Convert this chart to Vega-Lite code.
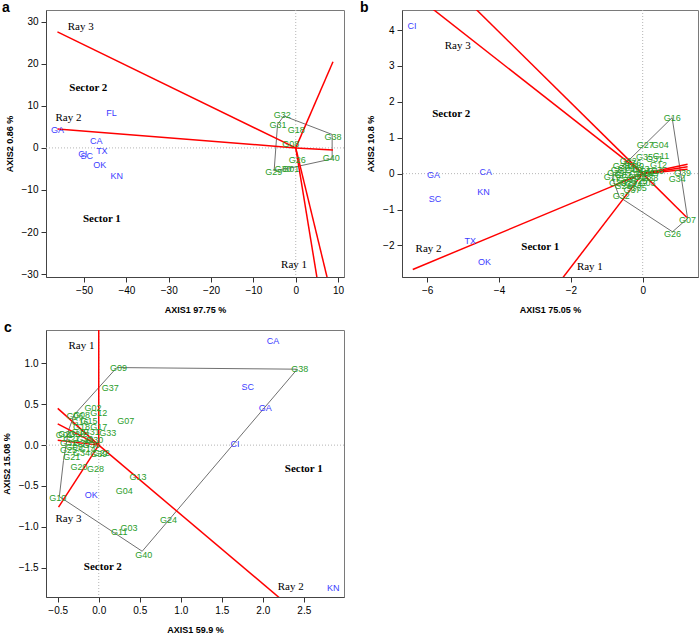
{
"$schema": "https://vega.github.io/schema/vega-lite/v6.json",
"padding": {"left": 1, "top": 0, "right": 0, "bottom": 0},
"background": "white",
"columns": 2,
"spacing": {"row": 53, "column": 58},
"bounds": "flush",
"config": {
 "view": {"stroke": "#7a7a7a", "strokeWidth": 1},
 "axis": {"grid": false, "labelFont": "Liberation Sans", "labelFontSize": 10, "labelColor": "#000", "tickColor": "#333", "domainColor": "#444", "tickSize": 5, "labelPadding": 3, "titleFont": "Liberation Sans", "titleFontSize": 9, "titleFontWeight": "bold", "titleColor": "#000"},
 "axisX": {"titlePadding": 10},
 "axisY": {"labelAngle": 0, "titlePadding": 7},
 "title": {"font": "Liberation Sans", "fontSize": 14, "fontWeight": "bold", "color": "#000", "anchor": "start", "frame": "group"}
},
"datasets": {
 "a_pts": [
  {"n":"GA","t":"E","x":-56.3,"y":4.2},{"n":"FL","t":"E","x":-43.5,"y":8.4},{"n":"CA","t":"E","x":-47.1,"y":1.6},{"n":"TX","t":"E","x":-45.8,"y":-0.8},{"n":"CI","t":"E","x":-50.3,"y":-1.5},{"n":"SC","t":"E","x":-49.4,"y":-1.9},{"n":"OK","t":"E","x":-46.3,"y":-4.1},{"n":"KN","t":"E","x":-42.3,"y":-6.7},
  {"n":"G32","t":"G","x":-3.2,"y":7.8},{"n":"G31","t":"G","x":-4.2,"y":5.5},{"n":"G18","t":"G","x":0.1,"y":4.3},{"n":"G38","t":"G","x":8.8,"y":2.6},{"n":"G08","t":"G","x":-1.2,"y":0.95},{"n":"G26","t":"G","x":0.35,"y":-2.9},{"n":"G40","t":"G","x":8.4,"y":-2.5},{"n":"G30","t":"G","x":-3.0,"y":-5.0},{"n":"G01","t":"G","x":-1.2,"y":-5.0},{"n":"G29","t":"G","x":-5.2,"y":-5.7}
 ],
 "a_hull": [
  {"o":1,"x":-2.8,"y":7.6},{"o":2,"x":8.6,"y":3.2},{"o":3,"x":8.6,"y":-2.6},{"o":4,"x":-0.5,"y":-4.6},{"o":5,"x":-5.1,"y":-5.4},{"o":6,"x":-4.3,"y":5.6},{"o":7,"x":-2.8,"y":7.6}
 ],
 "a_rays": [
  {"x":-56.3,"y":27.6},{"x":-56.3,"y":4.5},{"x":8.8,"y":20.5},{"x":8.8,"y":-0.5},{"x":5.2,"y":-32},{"x":7.7,"y":-32}
 ],
 "a_txt": [
  {"s":"Ray 3","k":"R","x":-50.8,"y":28.8},{"s":"Ray 2","k":"R","x":-53.7,"y":7.0},{"s":"Ray 1","k":"R","x":-0.4,"y":-27.8},{"s":"Sector 2","k":"S","x":-49.0,"y":14.2},{"s":"Sector 1","k":"S","x":-45.8,"y":-17.0}
 ],
 "b_pts": [
  {"n":"CI","t":"E","x":-6.42,"y":4.11},{"n":"GA","t":"E","x":-5.82,"y":-0.03},{"n":"SC","t":"E","x":-5.78,"y":-0.71},{"n":"CA","t":"E","x":-4.37,"y":0.04},{"n":"KN","t":"E","x":-4.43,"y":-0.52},{"n":"TX","t":"E","x":-4.8,"y":-1.87},{"n":"OK","t":"E","x":-4.4,"y":-2.46},
  {"n":"G16","t":"G","x":0.82,"y":1.56},{"n":"G27","t":"G","x":0.07,"y":0.79},{"n":"G04","t":"G","x":0.49,"y":0.79},{"n":"G11","t":"G","x":0.51,"y":0.48},{"n":"G35","t":"G","x":0.05,"y":0.46},{"n":"G31","t":"G","x":0.33,"y":0.4},{"n":"G12","t":"G","x":0.44,"y":0.24},{"n":"G39","t":"G","x":1.11,"y":0.01},{"n":"G34","t":"G","x":0.96,"y":-0.14},{"n":"G07","t":"G","x":1.25,"y":-1.29},{"n":"G26","t":"G","x":0.83,"y":-1.69},{"n":"G32","t":"G","x":-0.6,"y":-0.61},{"n":"G05","t":"G","x":-0.12,"y":-0.39},{"n":"G03","t":"G","x":0.12,"y":-0.25},{"n":"G36","t":"G","x":-0.28,"y":0.3},{"n":"G22","t":"G","x":-0.4,"y":0.36},{"n":"G19","t":"G","x":-0.85,"y":-0.1},{"n":"G01","t":"G","x":-0.65,"y":0.1},{"n":"G02","t":"G","x":-0.55,"y":-0.05},{"n":"G06","t":"G","x":-0.45,"y":0.15},{"n":"G08","t":"G","x":-0.35,"y":-0.08},{"n":"G09","t":"G","x":-0.25,"y":0.1},{"n":"G10","t":"G","x":-0.15,"y":-0.02},{"n":"G13","t":"G","x":-0.05,"y":0.12},{"n":"G14","t":"G","x":0.05,"y":0.02},{"n":"G15","t":"G","x":0.15,"y":0.08},{"n":"G17","t":"G","x":0.25,"y":0.03},{"n":"G18","t":"G","x":0.35,"y":0.06},{"n":"G20","t":"G","x":-0.7,"y":-0.25},{"n":"G21","t":"G","x":-0.55,"y":-0.35},{"n":"G23","t":"G","x":-0.4,"y":-0.25},{"n":"G24","t":"G","x":-0.25,"y":-0.3},{"n":"G25","t":"G","x":-0.1,"y":-0.2},{"n":"G28","t":"G","x":0.0,"y":-0.1},{"n":"G29","t":"G","x":-0.75,"y":0.02},{"n":"G30","t":"G","x":-0.6,"y":0.22},{"n":"G33","t":"G","x":-0.5,"y":-0.18},{"n":"G37","t":"G","x":-0.3,"y":-0.45},{"n":"G38","t":"G","x":0.2,"y":-0.12},{"n":"G40","t":"G","x":-0.2,"y":0.22}
 ],
 "b_hull": [
  {"o":1,"x":0.82,"y":1.56},{"o":2,"x":1.25,"y":-1.25},{"o":3,"x":0.83,"y":-1.62},{"o":4,"x":-0.65,"y":-0.65},{"o":5,"x":-0.85,"y":-0.1},{"o":6,"x":-0.4,"y":0.36},{"o":7,"x":0.82,"y":1.56}
 ],
 "b_rays": [
  {"x":-6.0,"y":4.71},{"x":-4.7,"y":4.64},{"x":1.23,"y":-1.22},{"x":-6.4,"y":-2.67},{"x":-2.3,"y":-3.0},{"x":1.25,"y":0.26},{"x":1.25,"y":0.19},{"x":1.25,"y":0.12}
 ],
 "b_txt": [
  {"s":"Ray 3","k":"R","x":-5.15,"y":3.57},{"s":"Ray 2","k":"R","x":-5.96,"y":-2.09},{"s":"Ray 1","k":"R","x":-1.47,"y":-2.59},{"s":"Sector 2","k":"S","x":-5.33,"y":1.65},{"s":"Sector 1","k":"S","x":-2.85,"y":-2.04}
 ],
 "c_pts": [
  {"n":"CA","t":"E","x":2.125,"y":1.27},{"n":"SC","t":"E","x":1.816,"y":0.71},{"n":"GA","t":"E","x":2.03,"y":0.46},{"n":"CI","t":"E","x":1.66,"y":0.01},{"n":"OK","t":"E","x":-0.09,"y":-0.61},{"n":"KN","t":"E","x":2.86,"y":-1.75},
  {"n":"G09","t":"G","x":0.24,"y":0.95},{"n":"G38","t":"G","x":2.45,"y":0.93},{"n":"G37","t":"G","x":0.14,"y":0.7},{"n":"G02","t":"G","x":-0.07,"y":0.46},{"n":"G12","t":"G","x":0.0,"y":0.39},{"n":"G07","t":"G","x":0.33,"y":0.29},{"n":"G17","t":"G","x":0.0,"y":0.22},{"n":"G33","t":"G","x":0.11,"y":0.15},{"n":"G13","t":"G","x":0.48,"y":-0.39},{"n":"G04","t":"G","x":0.31,"y":-0.56},{"n":"G10","t":"G","x":-0.5,"y":-0.65},{"n":"G24","t":"G","x":0.85,"y":-0.92},{"n":"G03","t":"G","x":0.37,"y":-1.02},{"n":"G11","t":"G","x":0.25,"y":-1.07},{"n":"G40","t":"G","x":0.55,"y":-1.34},{"n":"G28","t":"G","x":-0.04,"y":-0.29},{"n":"G20","t":"G","x":-0.24,"y":-0.27},{"n":"G21","t":"G","x":-0.33,"y":-0.15},{"n":"G34","t":"G","x":-0.21,"y":-0.1},{"n":"G39","t":"G","x":0.0,"y":-0.11},{"n":"G22","t":"G","x":0.03,"y":-0.1},{"n":"G25","t":"G","x":-0.37,"y":-0.06},
  {"n":"G06","t":"G","x":-0.29,"y":0.36},{"n":"G08","t":"G","x":-0.21,"y":0.37},{"n":"G16","t":"G","x":-0.23,"y":0.28},{"n":"G18","t":"G","x":-0.21,"y":0.22},{"n":"G19","t":"G","x":-0.23,"y":0.16},{"n":"G23","t":"G","x":-0.39,"y":0.14},{"n":"G26","t":"G","x":-0.27,"y":0.14},{"n":"G27","t":"G","x":-0.33,"y":0.08},{"n":"G29","t":"G","x":-0.17,"y":0.08},{"n":"G30","t":"G","x":-0.05,"y":0.06},{"n":"G31","t":"G","x":-0.09,"y":0.16},{"n":"G32","t":"G","x":-0.37,"y":0.02},{"n":"G35","t":"G","x":-0.21,"y":0.02},{"n":"G36","t":"G","x":-0.09,"y":0.0},{"n":"G01","t":"G","x":-0.42,"y":0.12},{"n":"G05","t":"G","x":-0.3,"y":-0.02},{"n":"G14","t":"G","x":-0.14,"y":-0.05},{"n":"G15","t":"G","x":-0.12,"y":0.3}
 ],
 "c_hull": [
  {"o":1,"x":0.22,"y":0.95},{"o":2,"x":2.42,"y":0.93},{"o":3,"x":0.53,"y":-1.3},{"o":4,"x":-0.48,"y":-0.63},{"o":5,"x":-0.43,"y":-0.19},{"o":6,"x":-0.37,"y":0.175},{"o":7,"x":-0.3,"y":0.37},{"o":8,"x":0.22,"y":0.95}
 ],
 "c_rays": [
  {"x":0.0,"y":1.5},{"x":2.25,"y":-1.91},{"x":-0.49,"y":-0.76},{"x":-0.5,"y":0.45},{"x":-0.5,"y":0.26},{"x":-0.5,"y":0.06}
 ],
 "c_txt": [
  {"s":"Ray 1","k":"R","x":-0.21,"y":1.22},{"s":"Ray 3","k":"R","x":-0.37,"y":-0.9},{"s":"Ray 2","k":"R","x":2.34,"y":-1.74},{"s":"Sector 2","k":"S","x":0.05,"y":-1.49},{"s":"Sector 1","k":"S","x":2.5,"y":-0.29}
 ]
},
"concat": [
 {
  "width": 298, "height": 267,
  "title": {"text": "a", "dx": -44, "offset": -5},
  "layer": [
   {"data": {"values": [{}]}, "mark": {"type": "rule", "color": "#b5b5b5", "strokeDash": [1, 2]},
    "encoding": {"x": {"datum": 0, "type": "quantitative", "title": "AXIS1 97.75 %", "scale": {"domain": [-59, 11.4], "nice": false, "zero": false}, "axis": {"values": [-50, -40, -30, -20, -10, 0, 10]}}}},
   {"data": {"values": [{}]}, "mark": {"type": "rule", "color": "#b5b5b5", "strokeDash": [1, 2]},
    "encoding": {"y": {"datum": 0, "type": "quantitative", "title": "AXIS2 0.86 %", "scale": {"domain": [-30.7, 32.8], "nice": false, "zero": false}, "axis": {"values": [-30, -20, -10, 0, 10, 20, 30]}}}},
   {"data": {"name": "a_hull"}, "mark": {"type": "line", "color": "#707070", "strokeWidth": 1},
    "encoding": {"x": {"field": "x", "type": "quantitative", "title": "AXIS1 97.75 %", "scale": {"domain": [-59, 11.4], "nice": false, "zero": false}},
     "y": {"field": "y", "type": "quantitative", "title": "AXIS2 0.86 %", "scale": {"domain": [-30.7, 32.8], "nice": false, "zero": false}},
     "order": {"field": "o"}}},
   {"data": {"name": "a_rays"}, "mark": {"type": "rule", "color": "#ff0000", "strokeWidth": 1.5, "clip": true},
    "encoding": {"x": {"field": "x", "type": "quantitative", "title": "AXIS1 97.75 %", "scale": {"domain": [-59, 11.4], "nice": false, "zero": false}}, "x2": {"datum": 0},
     "y": {"field": "y", "type": "quantitative", "title": "AXIS2 0.86 %", "scale": {"domain": [-30.7, 32.8], "nice": false, "zero": false}}, "y2": {"datum": 0}}},
   {"data": {"name": "a_pts"}, "mark": {"type": "text", "font": "Liberation Sans", "fontSize": 9},
    "encoding": {"x": {"field": "x", "type": "quantitative", "title": "AXIS1 97.75 %", "scale": {"domain": [-59, 11.4], "nice": false, "zero": false}},
     "y": {"field": "y", "type": "quantitative", "title": "AXIS2 0.86 %", "scale": {"domain": [-30.7, 32.8], "nice": false, "zero": false}},
     "text": {"field": "n"}, "color": {"field": "t", "type": "nominal", "scale": {"domain": ["E", "G"], "range": ["#3c3cff", "#2a9d2a"]}, "legend": null}}},
   {"data": {"name": "a_txt"}, "transform": [{"filter": "datum.k == 'R'"}], "mark": {"type": "text", "font": "Liberation Serif", "fontSize": 11, "color": "#000"},
    "encoding": {"x": {"field": "x", "type": "quantitative", "title": "AXIS1 97.75 %", "scale": {"domain": [-59, 11.4], "nice": false, "zero": false}},
     "y": {"field": "y", "type": "quantitative", "title": "AXIS2 0.86 %", "scale": {"domain": [-30.7, 32.8], "nice": false, "zero": false}}, "text": {"field": "s"}}},
   {"data": {"name": "a_txt"}, "transform": [{"filter": "datum.k == 'S'"}], "mark": {"type": "text", "font": "Liberation Serif", "fontSize": 11, "fontWeight": "bold", "color": "#000"},
    "encoding": {"x": {"field": "x", "type": "quantitative", "title": "AXIS1 97.75 %", "scale": {"domain": [-59, 11.4], "nice": false, "zero": false}},
     "y": {"field": "y", "type": "quantitative", "title": "AXIS2 0.86 %", "scale": {"domain": [-30.7, 32.8], "nice": false, "zero": false}}, "text": {"field": "s"}}}
  ]
 },
 {
  "width": 296, "height": 267,
  "title": {"text": "b", "dx": -42, "offset": -5},
  "layer": [
   {"data": {"values": [{}]}, "mark": {"type": "rule", "color": "#b5b5b5", "strokeDash": [1, 2]},
    "encoding": {"x": {"datum": 0, "type": "quantitative", "title": "AXIS1 75.05 %", "scale": {"domain": [-6.7, 1.54], "nice": false, "zero": false}, "axis": {"values": [-6, -4, -2, 0]}}}},
   {"data": {"values": [{}]}, "mark": {"type": "rule", "color": "#b5b5b5", "strokeDash": [1, 2]},
    "encoding": {"y": {"datum": 0, "type": "quantitative", "title": "AXIS2 10.8 %", "scale": {"domain": [-2.88, 4.56], "nice": false, "zero": false}, "axis": {"values": [-2, -1, 0, 1, 2, 3, 4]}}}},
   {"data": {"name": "b_hull"}, "mark": {"type": "line", "color": "#707070", "strokeWidth": 1},
    "encoding": {"x": {"field": "x", "type": "quantitative", "title": "AXIS1 75.05 %", "scale": {"domain": [-6.7, 1.54], "nice": false, "zero": false}},
     "y": {"field": "y", "type": "quantitative", "title": "AXIS2 10.8 %", "scale": {"domain": [-2.88, 4.56], "nice": false, "zero": false}},
     "order": {"field": "o"}}},
   {"data": {"name": "b_rays"}, "mark": {"type": "rule", "color": "#ff0000", "strokeWidth": 1.5, "clip": true},
    "encoding": {"x": {"field": "x", "type": "quantitative", "title": "AXIS1 75.05 %", "scale": {"domain": [-6.7, 1.54], "nice": false, "zero": false}}, "x2": {"datum": 0},
     "y": {"field": "y", "type": "quantitative", "title": "AXIS2 10.8 %", "scale": {"domain": [-2.88, 4.56], "nice": false, "zero": false}}, "y2": {"datum": 0}}},
   {"data": {"name": "b_pts"}, "mark": {"type": "text", "font": "Liberation Sans", "fontSize": 9},
    "encoding": {"x": {"field": "x", "type": "quantitative", "title": "AXIS1 75.05 %", "scale": {"domain": [-6.7, 1.54], "nice": false, "zero": false}},
     "y": {"field": "y", "type": "quantitative", "title": "AXIS2 10.8 %", "scale": {"domain": [-2.88, 4.56], "nice": false, "zero": false}},
     "text": {"field": "n"}, "color": {"field": "t", "type": "nominal", "scale": {"domain": ["E", "G"], "range": ["#3c3cff", "#2a9d2a"]}, "legend": null}}},
   {"data": {"name": "b_txt"}, "transform": [{"filter": "datum.k == 'R'"}], "mark": {"type": "text", "font": "Liberation Serif", "fontSize": 11, "color": "#000"},
    "encoding": {"x": {"field": "x", "type": "quantitative", "title": "AXIS1 75.05 %", "scale": {"domain": [-6.7, 1.54], "nice": false, "zero": false}},
     "y": {"field": "y", "type": "quantitative", "title": "AXIS2 10.8 %", "scale": {"domain": [-2.88, 4.56], "nice": false, "zero": false}}, "text": {"field": "s"}}},
   {"data": {"name": "b_txt"}, "transform": [{"filter": "datum.k == 'S'"}], "mark": {"type": "text", "font": "Liberation Serif", "fontSize": 11, "fontWeight": "bold", "color": "#000"},
    "encoding": {"x": {"field": "x", "type": "quantitative", "title": "AXIS1 75.05 %", "scale": {"domain": [-6.7, 1.54], "nice": false, "zero": false}},
     "y": {"field": "y", "type": "quantitative", "title": "AXIS2 10.8 %", "scale": {"domain": [-2.88, 4.56], "nice": false, "zero": false}}, "text": {"field": "s"}}}
  ]
 },
 {
  "width": 298, "height": 267,
  "title": {"text": "c", "dx": -42, "offset": -5},
  "layer": [
   {"data": {"values": [{}]}, "mark": {"type": "rule", "color": "#b5b5b5", "strokeDash": [1, 2]},
    "encoding": {"x": {"datum": 0, "type": "quantitative", "title": "AXIS1 59.9 %", "scale": {"domain": [-0.643, 2.99], "nice": false, "zero": false}, "axis": {"values": [-0.5, 0, 0.5, 1, 1.5, 2, 2.5], "format": ".1f"}}}},
   {"data": {"values": [{}]}, "mark": {"type": "rule", "color": "#b5b5b5", "strokeDash": [1, 2]},
    "encoding": {"y": {"datum": 0, "type": "quantitative", "title": "AXIS2 15.08 %", "scale": {"domain": [-1.86, 1.41], "nice": false, "zero": false}, "axis": {"values": [-1.5, -1, -0.5, 0, 0.5, 1], "format": ".1f"}}}},
   {"data": {"name": "c_hull"}, "mark": {"type": "line", "color": "#707070", "strokeWidth": 1},
    "encoding": {"x": {"field": "x", "type": "quantitative", "title": "AXIS1 59.9 %", "scale": {"domain": [-0.643, 2.99], "nice": false, "zero": false}},
     "y": {"field": "y", "type": "quantitative", "title": "AXIS2 15.08 %", "scale": {"domain": [-1.86, 1.41], "nice": false, "zero": false}},
     "order": {"field": "o"}}},
   {"data": {"name": "c_rays"}, "mark": {"type": "rule", "color": "#ff0000", "strokeWidth": 1.5, "clip": true},
    "encoding": {"x": {"field": "x", "type": "quantitative", "title": "AXIS1 59.9 %", "scale": {"domain": [-0.643, 2.99], "nice": false, "zero": false}}, "x2": {"datum": 0},
     "y": {"field": "y", "type": "quantitative", "title": "AXIS2 15.08 %", "scale": {"domain": [-1.86, 1.41], "nice": false, "zero": false}}, "y2": {"datum": 0}}},
   {"data": {"name": "c_pts"}, "mark": {"type": "text", "font": "Liberation Sans", "fontSize": 9},
    "encoding": {"x": {"field": "x", "type": "quantitative", "title": "AXIS1 59.9 %", "scale": {"domain": [-0.643, 2.99], "nice": false, "zero": false}},
     "y": {"field": "y", "type": "quantitative", "title": "AXIS2 15.08 %", "scale": {"domain": [-1.86, 1.41], "nice": false, "zero": false}},
     "text": {"field": "n"}, "color": {"field": "t", "type": "nominal", "scale": {"domain": ["E", "G"], "range": ["#3c3cff", "#2a9d2a"]}, "legend": null}}},
   {"data": {"name": "c_txt"}, "transform": [{"filter": "datum.k == 'R'"}], "mark": {"type": "text", "font": "Liberation Serif", "fontSize": 11, "color": "#000"},
    "encoding": {"x": {"field": "x", "type": "quantitative", "title": "AXIS1 59.9 %", "scale": {"domain": [-0.643, 2.99], "nice": false, "zero": false}},
     "y": {"field": "y", "type": "quantitative", "title": "AXIS2 15.08 %", "scale": {"domain": [-1.86, 1.41], "nice": false, "zero": false}}, "text": {"field": "s"}}},
   {"data": {"name": "c_txt"}, "transform": [{"filter": "datum.k == 'S'"}], "mark": {"type": "text", "font": "Liberation Serif", "fontSize": 11, "fontWeight": "bold", "color": "#000"},
    "encoding": {"x": {"field": "x", "type": "quantitative", "title": "AXIS1 59.9 %", "scale": {"domain": [-0.643, 2.99], "nice": false, "zero": false}},
     "y": {"field": "y", "type": "quantitative", "title": "AXIS2 15.08 %", "scale": {"domain": [-1.86, 1.41], "nice": false, "zero": false}}, "text": {"field": "s"}}}
  ]
 }
]
}
